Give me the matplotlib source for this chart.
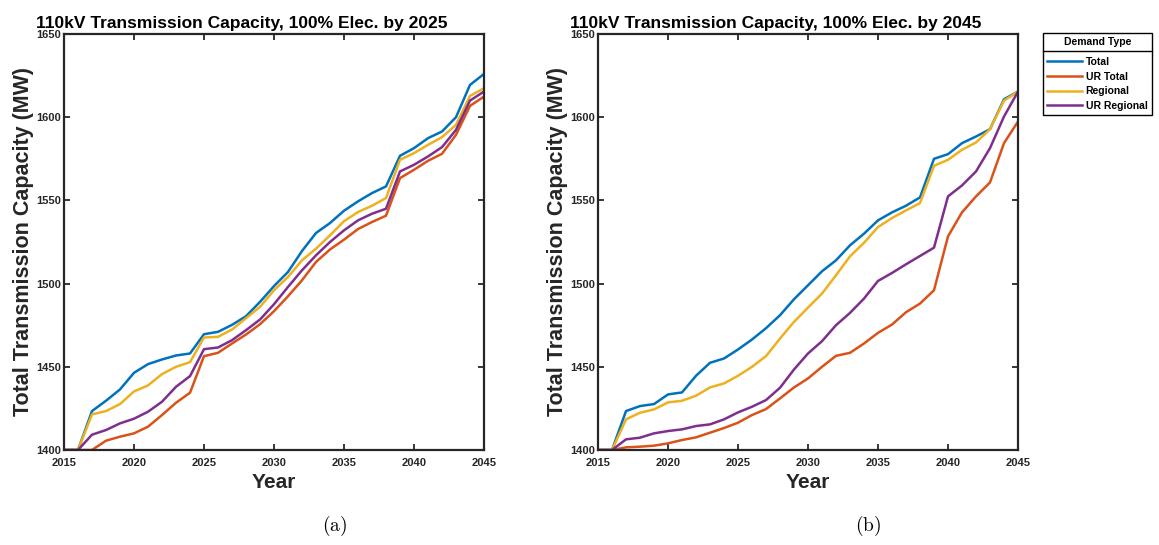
import numpy as np
import matplotlib
matplotlib.use('Agg')
import matplotlib.pyplot as plt
from matplotlib.lines import Line2D

plt.rcParams['font.family'] = ['Liberation Sans', 'DejaVu Sans']
plt.rcParams['mathtext.fontset'] = 'cm'

years = list(range(2015, 2046))
series_names = ['Total', 'UR Total', 'Regional', 'UR Regional']
colors = ['#0072BD', '#D95319', '#EDB120', '#7E2F8E']

# (a) 100% electrification by 2025
total_a = [1400, 1400, 1423.4, 1429.6, 1436.4, 1446.4, 1451.6, 1454.4, 1456.8, 1458,
           1469.6, 1471, 1475.2, 1480.4, 1489, 1498.5, 1507, 1519.6, 1530.4, 1536.4,
           1543.8, 1549.4, 1554.4, 1558.4, 1576.8, 1581.4, 1587.4, 1591.4, 1600, 1619.4, 1626]
ur_total_a = [1400, 1400, 1400, 1405.6, 1408, 1410, 1414, 1421, 1428.4, 1434.4,
              1456.4, 1458.4, 1464, 1469.4, 1475.6, 1483.4, 1492.4, 1502, 1513, 1520.5,
              1526.4, 1532.8, 1537, 1540.8, 1563.4, 1568.4, 1573.8, 1578, 1589.4, 1606.8, 1612.4]
regional_a = [1400, 1400, 1421.4, 1423.4, 1427.6, 1435.2, 1438.8, 1445.6, 1450, 1452.8,
              1467.6, 1468, 1472.4, 1479.2, 1486, 1496, 1504, 1514, 1521, 1529,
              1537.5, 1543, 1546.8, 1551.4, 1574.4, 1578.4, 1583.4, 1588, 1595.4, 1612.8, 1617.4]
ur_regional_a = [1400, 1400, 1409.2, 1412, 1416, 1418.8, 1423, 1429, 1438, 1444.4,
                 1460.6, 1461.6, 1466, 1472, 1478.4, 1487.6, 1498, 1508, 1517, 1525,
                 1532, 1538, 1542, 1545, 1567.4, 1571.4, 1576.4, 1582, 1592.4, 1610, 1615.4]

# (b) 100% electrification by 2045
total_b = [1400, 1400, 1423.4, 1426.4, 1427.6, 1433.4, 1434.6, 1444.6, 1452.4, 1455,
           1460.4, 1466.4, 1473.2, 1481, 1490.6, 1499, 1507.4, 1514, 1523, 1530,
           1538, 1542.8, 1546.8, 1551.8, 1575, 1577.8, 1584.4, 1588.4, 1592.8, 1610.8, 1615.4]
ur_total_b = [1400, 1400, 1401.6, 1402, 1402.6, 1404, 1406, 1407.6, 1410.4, 1413.2,
              1416.4, 1421, 1424.6, 1431, 1437.6, 1443, 1450, 1456.6, 1458.4, 1464,
              1470.4, 1475.4, 1482.8, 1488, 1496, 1528.4, 1542.8, 1552.4, 1560.8, 1584.4, 1597.4]
regional_b = [1400, 1400, 1418.4, 1422.4, 1424.4, 1428.6, 1429.6, 1432.6, 1437.6, 1440,
              1444.6, 1450, 1456.4, 1467, 1477, 1485.6, 1494, 1505, 1516.4, 1524.5,
              1534, 1539.4, 1544, 1548.4, 1570.8, 1574.4, 1580.4, 1584.8, 1592.8, 1610, 1615.4]
ur_regional_b = [1400, 1400, 1406.4, 1407.4, 1410, 1411.4, 1412.4, 1414.4, 1415.4, 1418.4,
                 1422.6, 1426, 1430, 1437.4, 1448.4, 1458, 1465.4, 1475, 1482.4, 1491,
                 1501.6, 1506.4, 1511.6, 1516.6, 1521.6, 1552.4, 1559, 1567.4, 1581.4, 1600.4, 1615.4]

titles = ['110kV Transmission Capacity, 100% Elec. by 2025',
          '110kV Transmission Capacity, 100% Elec. by 2045']
captions = [r'$\mathrm{(a)}$', r'$\mathrm{(b)}$']
panels = [[total_a, ur_total_a, regional_a, ur_regional_a],
          [total_b, ur_total_b, regional_b, ur_regional_b]]

W, H = 1159, 545
fig = plt.figure(figsize=(W / 100, H / 100), dpi=100)
axes_px = [(64, 34, 484, 450), (598, 34, 1018, 450)]
caption_x = [335, 868]
axc = '#262626'

handles = []
for k in range(2):
    x0, y0, x1, y1 = axes_px[k]
    ax = fig.add_axes([x0 / W, 1 - y1 / H, (x1 - x0) / W, (y1 - y0) / H])
    for vals, c, name in zip(panels[k], colors, series_names):
        ln, = ax.plot(years, vals, color=c, lw=1.8, label=name)
        if k == 0:
            handles.append(ln)
    ax.set_xlim(2015, 2045)
    ax.set_ylim(1400, 1650)
    ax.set_xticks(range(2015, 2046, 5))
    ax.set_yticks(range(1400, 1651, 50))
    ax.tick_params(direction='in', top=True, right=True, length=4, width=1.3,
                   color=axc, labelsize=8, labelcolor=axc)
    ax.tick_params(axis='x', pad=6)
    ax.tick_params(axis='y', pad=2)
    for lab in ax.get_xticklabels() + ax.get_yticklabels():
        lab.set_fontweight('bold')
    for sp in ax.spines.values():
        sp.set_linewidth(1.6)
        sp.set_color(axc)
    ax.set_xlabel('Year', fontsize=15, fontweight='bold', color=axc, labelpad=3)
    ax.set_ylabel('Total Transmission Capacity (MW)', fontsize=15.5, fontweight='bold',
                  color=axc, labelpad=2)
    ax.set_title(titles[k], fontsize=12.5, fontweight='bold', x=0.423, pad=4)
    fig.text(caption_x[k] / W, 1 - 526 / H, captions[k],
             ha='center', va='center', fontsize=14)

leg = fig.legend(handles, series_names, loc='upper left',
                 bbox_to_anchor=(1043 / W, 1 - 33 / H), bbox_transform=fig.transFigure,
                 title='Demand Type', title_fontproperties={'weight': 'bold', 'size': 7.5},
                 prop={'weight': 'bold', 'size': 7.5}, frameon=True, fancybox=False,
                 edgecolor='black', borderaxespad=0, borderpad=0.4, handlelength=3.3,
                 handletextpad=0.4, labelspacing=0.45)
leg.get_frame().set_linewidth(1.0)
leg.get_frame().set_alpha(None)
leg._legend_box.sep = 7

fig.canvas.draw()
r = fig.canvas.get_renderer()
tb = leg.get_title().get_window_extent(r)
fb = leg.get_frame().get_window_extent(r)
ysep = (tb.y0 - 3.5) / H
fig.add_artist(Line2D([fb.x0 / W, fb.x1 / W], [ysep, ysep], color='black', lw=1.0,
                      transform=fig.transFigure, zorder=10))

fig.savefig('out.png', dpi=100)
